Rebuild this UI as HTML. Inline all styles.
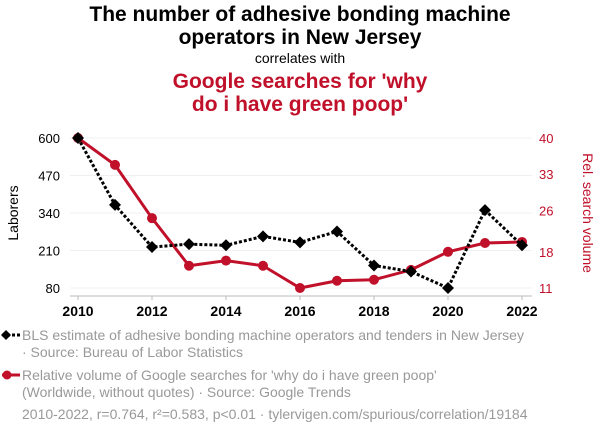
<!DOCTYPE html>
<html><head><meta charset="utf-8"><style>
body{margin:0;width:600px;height:436px;background:#fff;font-family:"Liberation Sans",sans-serif;overflow:hidden}
#wrap{position:relative;width:600px;height:436px}
.t{position:absolute;left:0;width:600px;text-align:center}
</style></head><body><div id="wrap">
<div class="t" style="top:3px;font-size:21px;font-weight:bold;line-height:23px;color:#000">The number of adhesive bonding machine<br>operators in New Jersey</div>
<div class="t" style="top:50px;font-size:14px;color:#000">correlates with</div>
<div class="t" style="top:70px;font-size:21px;font-weight:bold;line-height:23px;color:#c0102a">Google searches for 'why<br>do i have green poop'</div>
<svg id="svg" width="600" height="436" style="position:absolute;left:0;top:0"></svg>
</div>
<script>
const years=[2010,2011,2012,2013,2014,2015,2016,2017,2018,2019,2020,2021,2022];
const laborers=[600,368,222,232,228,259,238,276,158,137,80,350,228];
const searches=[40,34.8,24.5,15.3,16.3,15.3,11,12.4,12.6,14.5,18,19.7,19.9];
const leftTicks=[600,470,340,210,80];
const rightTicks=[40,33,26,18,11];
const xTicks=[2010,2012,2014,2016,2018,2020,2022];
const svg=document.getElementById('svg');const NS='http://www.w3.org/2000/svg';
const x=v=>78+(v-2010)*37;
const yL=v=>288-(v-80)/520*150;
const yR=v=>288-(v-11)/29*150;
function mk(t,a,txt){const e=document.createElementNS(NS,t);for(const k in a)e.setAttribute(k,a[k]);if(txt!==undefined)e.textContent=txt;svg.appendChild(e);return e;}
leftTicks.forEach(v=>{const g=mk('line',{x1:70,x2:532,y1:yL(v),y2:yL(v),stroke:'#f0f0f0'});
const t=mk('text',{x:60,y:yL(v)+5,'text-anchor':'end','font-size':13,fill:'#000'},v);});
rightTicks.forEach(v=>{const t=mk('text',{x:539,y:yR(v)+5,'font-size':13,fill:'#c0102a'},v);});
const ax=mk('line',{x1:70,x2:532,y1:296,y2:296,stroke:'#bbb'});
xTicks.forEach(v=>{const l=mk('line',{x1:x(v),x2:x(v),y1:296,y2:300,stroke:'#bbb'});
const t=mk('text',{x:x(v),y:316,'text-anchor':'middle','font-size':14,'font-weight':'bold',fill:'#000'},v);});
let yt=mk('text',{x:0,y:0,transform:'translate(18,213) rotate(-90)','text-anchor':'middle','font-size':14,fill:'#000'},'Laborers');
yt=mk('text',{x:0,y:0,transform:'translate(583,213) rotate(90)','text-anchor':'middle','font-size':14,fill:'#c0102a'},'Rel. search volume');
const rp=mk('polyline',{points:years.map((y,i)=>x(y)+','+yR(searches[i])).join(' '),fill:'none',stroke:'#c0102a','stroke-width':3});
years.forEach((y,i)=>{const c=mk('circle',{cx:x(y),cy:yR(searches[i]),r:5,fill:'#c0102a'});});
const bp=mk('polyline',{points:years.map((y,i)=>x(y)+','+yL(laborers[i])).join(' '),fill:'none',stroke:'#000','stroke-width':3,'stroke-dasharray':'3,2'});
years.forEach((y,i)=>{const px=x(y),py=yL(laborers[i]);const d=mk('polygon',{points:`${px},${py-6} ${px+6},${py} ${px},${py+6} ${px-6},${py}`,fill:'#000'});});
// legend
let l=mk('line',{x1:2,x2:20,y1:335,y2:335,stroke:'#000','stroke-width':3,'stroke-dasharray':'3,2'});
l=mk('polygon',{points:'6,330 11,335 6,340 1,335',fill:'#000'});
l=mk('line',{x1:2,x2:20,y1:375,y2:375,stroke:'#c0102a','stroke-width':3});
l=mk('circle',{cx:7,cy:375,r:4.5,fill:'#c0102a'});
const lg=[[22,340,'BLS estimate of adhesive bonding machine operators and tenders in New Jersey'],[22,357,'· Source: Bureau of Labor Statistics'],[22,380,"Relative volume of Google searches for 'why do i have green poop'"],[22,397,'(Worldwide, without quotes) · Source: Google Trends'],[22,419,'2010-2022, r=0.764, r²=0.583, p<0.01 · tylervigen.com/spurious/correlation/19184']];
lg.forEach(a=>{const t=mk('text',{x:a[0],y:a[1],'font-size':14,fill:'#999'},a[2]);});
</script></body></html>
